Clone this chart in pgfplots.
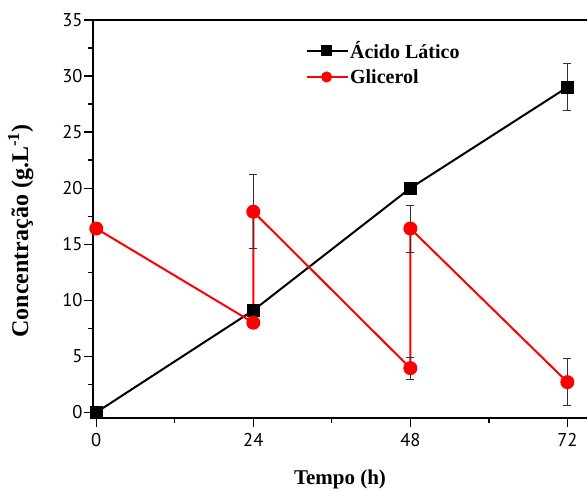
\documentclass[border=0pt]{standalone}
\usepackage{fontspec}
\setmainfont{Liberation Serif}
\newfontfamily\tickfont{PT Sans}
\usepackage{pgfplots}
\pgfplotsset{compat=1.18}
\usetikzlibrary{calc}
\definecolor{gred}{RGB}{255,0,0}

\begin{document}
\begin{tikzpicture}
\begin{axis}[
  scale only axis, width=494pt, height=398pt,
  xmin=-0.5, xmax=75, ymin=-0.5, ymax=35,
  axis x line*=bottom, axis y line*=left,
  xtick={0,24,48,72}, minor xtick={12,36,60},
  ytick={0,5,...,35}, minor ytick={2.5,7.5,...,32.5},
  tick align=outside,
  major tick length=9pt, minor tick length=5pt,
  every tick/.style={black, line width=1.3pt},
  axis line style={line width=1.8pt},
  ticklabel style={font=\tickfont\fontsize{18.5}{18.5}\selectfont},
  xticklabel style={yshift=-3pt},
  yticklabel style={xshift=2pt},
  /pgf/number format/assume math mode=true,
  xlabel={\bfseries Tempo (h)},
  ylabel={\bfseries Concentração (g.L\textsuperscript{-1})},
  xlabel style={font=\fontsize{21}{23}\selectfont, yshift=-16pt},
  ylabel style={font=\fontsize{24}{26}\selectfont, yshift=22pt, xshift=-12pt},
  clip=false,
  legend style={draw=none, fill=none, at={(axis cs:31.5,33.4)}, anchor=north west,
    font=\bfseries\fontsize{20}{22}\selectfont, row sep=6pt,
    nodes={inner sep=1.5pt}},
  legend cell align=left,
  legend image code/.code={\draw[mark repeat=2, mark phase=2, #1, mark size=4.5pt]
    plot coordinates {(0pt,0pt) (20pt,0pt) (41pt,0pt)};},
]
\addplot[black, line width=2.4pt, forget plot] coordinates {(-0.5,35) (75,35)};
\addplot[black, line width=2pt, mark=square*, mark size=5.5pt,
  error bars/.cd, y dir=both, y explicit,
  error bar style={black!80, line width=0.7pt},
  error mark options={rotate=90, mark size=4pt, black!80, line width=0.7pt}]
  table[x=x, y=y, y error=e] {
x  y    e
0  0    0.2
24 9.1  0.3
48 20.0 0.3
72 29.0 2.1
};
\addlegendentry{Ácido Lático}
\addplot[gred, line width=2pt, mark=*, mark size=6pt,
  mark options={fill=gred, draw=gred},
  error bars/.cd, y dir=both, y explicit,
  error bar style={black!80, line width=0.7pt},
  error mark options={rotate=90, mark size=4pt, black!80, line width=0.7pt}]
  table[x=x, y=y, y error=e] {
x  y    e
0  16.4 0.2
24 8.0  0.3
24 17.9 3.3
48 3.95 1.0
48 16.4 2.1
72 2.7  2.1
};
\addlegendentry{Glicerol}
\end{axis}
\pgfresetboundingbox
\useasboundingbox ($(current axis.south west)+(-93pt,-73pt)$) rectangle ($(current axis.north east)+(0pt,20pt)$);
\end{tikzpicture}
\end{document}
